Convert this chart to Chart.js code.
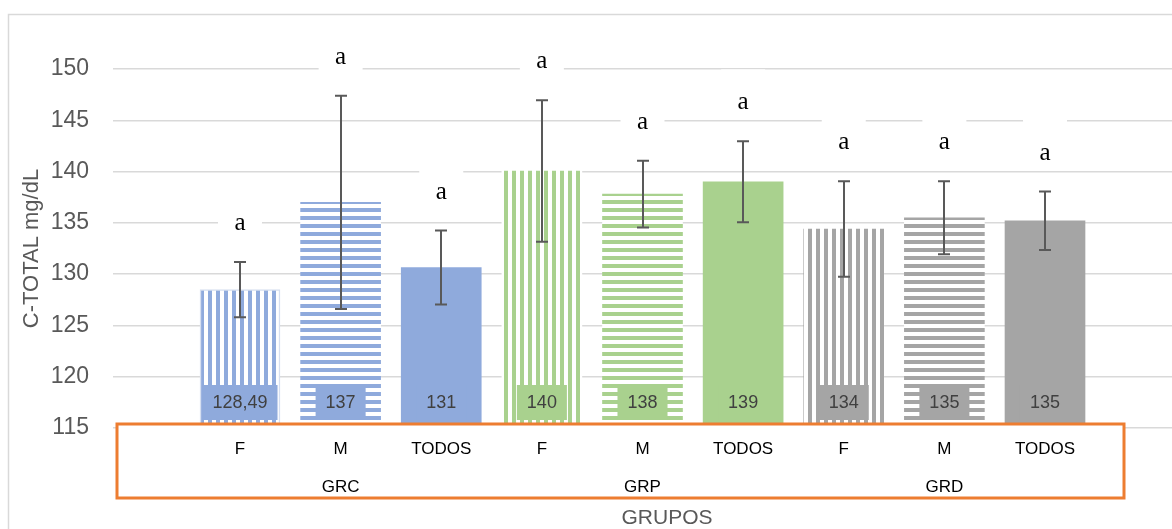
<!DOCTYPE html>
<html lang="es">
<head>
<meta charset="UTF-8">
<title>C-TOTAL por grupo</title>
<script src="https://cdn.jsdelivr.net/npm/chart.js"></script>
<style>
  body { margin: 0; background: #fff; overflow: hidden; }
  #wrap { width: 1172px; height: 529px; position: relative; }
</style>
</head>
<body>
<div id="wrap"><canvas id="c" width="1172" height="529"></canvas></div>
<script>
// datos
const grupos = ['GRC', 'GRP', 'GRD'];
const sexos = ['F', 'M', 'TODOS'];
const medias = [128.49, 137.0, 130.65, 140.05, 137.8, 139.0, 134.4, 135.5, 135.2];
const etiquetas = ['128,49', '137', '131', '140', '138', '139', '134', '135', '135'];
const desvios = [2.7, 10.4, 3.6, 6.9, 3.25, 3.95, 4.65, 3.55, 2.85];
const letras = ['a', 'a', 'a', 'a', 'a', 'a', 'a', 'a', 'a'];

const coloresGrupo = ['#8FAADC', '#A9D18E', '#A5A5A5'];
const SANS = "'Liberation Sans', Arial, sans-serif";

function rayas(color, dir) {
  const c = document.createElement('canvas');
  c.width = 8; c.height = 8;
  const g = c.getContext('2d');
  g.fillStyle = '#fff';
  g.fillRect(0, 0, 8, 8);
  g.fillStyle = color;
  if (dir === 'v') g.fillRect(0, 0, 4, 8);
  else g.fillRect(0, 0, 8, 4);
  return g.createPattern(c, 'repeat');
}

const fondos = [];
const colorPlano = [];
grupos.forEach((gr, gi) => {
  sexos.forEach((s, si) => {
    const col = coloresGrupo[gi];
    colorPlano.push(col);
    if (si === 0) fondos.push(rayas(col, 'v'));
    else if (si === 1) fondos.push(rayas(col, 'h'));
    else fondos.push(col);
  });
});

const puntos = medias.map((v, i) => ({ x: i, y: v }));

const extras = {
  id: 'extras',
  beforeDraw(chart) {
    const ctx = chart.ctx;
    ctx.save();
    ctx.strokeStyle = '#D9D9D9';
    ctx.lineWidth = 1.5;
    ctx.strokeRect(8.5, 14.5, 1400, 700);
    ctx.restore();
  },
  afterDatasetsDraw(chart) {
    const ctx = chart.ctx;
    const xs = chart.scales.x, ys = chart.scales.y;
    const base = ys.getPixelForValue(ys.min);
    ctx.save();

    // barras de error
    ctx.strokeStyle = '#595959';
    ctx.lineWidth = 2;
    medias.forEach((m, i) => {
      const x = Math.round(xs.getPixelForValue(i));
      const yt = ys.getPixelForValue(m + desvios[i]);
      const yb = ys.getPixelForValue(m - desvios[i]);
      ctx.beginPath();
      ctx.moveTo(x, yt); ctx.lineTo(x, yb);
      ctx.moveTo(x - 6, yt); ctx.lineTo(x + 6, yt);
      ctx.moveTo(x - 6, yb); ctx.lineTo(x + 6, yb);
      ctx.stroke();
    });

    // etiquetas de valor
    ctx.font = '18px ' + SANS;
    ctx.textAlign = 'center';
    ctx.textBaseline = 'middle';
    etiquetas.forEach((t, i) => {
      const x = xs.getPixelForValue(i);
      const y = base - 25.5;
      const w = ctx.measureText(t).width + 20;
      ctx.fillStyle = colorPlano[i];
      ctx.fillRect(x - w / 2, y - 17.5, w, 35);
      ctx.fillStyle = '#404040';
      ctx.fillText(t, x, y + 1);
    });

    // letras de significancia
    ctx.font = '25px "Liberation Serif", "Times New Roman", serif';
    ctx.textBaseline = 'alphabetic';
    letras.forEach((l, i) => {
      const x = xs.getPixelForValue(i);
      const y = ys.getPixelForValue(medias[i] + desvios[i]) - 38;
      ctx.fillStyle = '#fff';
      ctx.fillRect(x - 22, y - 34, 44, 48);
      ctx.fillStyle = '#000';
      ctx.fillText(l, x, y + 6);
    });

    // recuadro del eje X
    ctx.fillStyle = '#fff';
    ctx.fillRect(117, 424, 1007, 74);
    ctx.strokeStyle = '#ED7D31';
    ctx.lineWidth = 3;
    ctx.strokeRect(117, 424, 1007, 74);

    ctx.fillStyle = '#000';
    ctx.font = '17px ' + SANS;
    ctx.textBaseline = 'middle';
    grupos.forEach((g, gi) => {
      sexos.forEach((s, si) => {
        const i = gi * sexos.length + si;
        ctx.fillText(s, xs.getPixelForValue(i), 449);
      });
      ctx.fillText(g, xs.getPixelForValue(gi * sexos.length + 1), 487);
    });

    // títulos de ejes
    ctx.fillStyle = '#595959';
    ctx.font = '21px ' + SANS;
    ctx.fillText('GRUPOS', 667, 518);

    ctx.font = '22px ' + SANS;
    ctx.translate(38, (ys.top + ys.bottom) / 2);
    ctx.rotate(-Math.PI / 2);
    ctx.textBaseline = 'alphabetic';
    ctx.fillText('C-TOTAL mg/dL', 0, 0);
    ctx.restore();
  }
};

new Chart(document.getElementById('c').getContext('2d'), {
  type: 'bar',
  data: {
    datasets: [{
      label: 'C-TOTAL',
      data: puntos,
      backgroundColor: fondos,
      borderColor: medias.map((m, i) => i === 0 ? '#D6DFF0' : 'rgba(0,0,0,0)'),
      borderWidth: medias.map((m, i) => i === 0 ? 1.5 : 0),
      barThickness: 80
    }]
  },
  options: {
    responsive: false,
    animation: false,
    devicePixelRatio: 1,
    layout: { padding: { left: 0, right: 0, top: 69, bottom: 101 } },
    plugins: { legend: { display: false }, tooltip: { enabled: false } },
    scales: {
      x: {
        type: 'linear',
        min: -1.262,
        max: 9.262,
        offset: false,
        display: false
      },
      y: {
        min: 115,
        max: 150,
        afterFit(s) { s.width = 113; },
        ticks: {
          stepSize: 5,
          padding: 24,
          color: '#595959',
          font: { family: SANS, size: 23 }
        },
        grid: { color: '#D9D9D9', lineWidth: 1.5, drawTicks: false },
        border: { display: false }
      }
    }
  },
  plugins: [extras]
});
</script>
</body>
</html>
